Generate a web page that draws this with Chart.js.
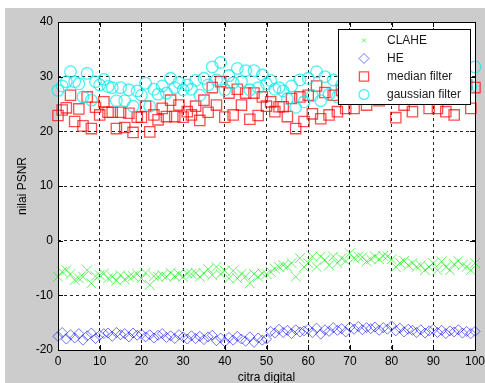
<!DOCTYPE html>
<html>
<head>
<meta charset="utf-8">
<script src="https://cdn.jsdelivr.net/npm/chart.js@4.4.1/dist/chart.umd.min.js"></script>
<style>
  html, body { margin: 0; padding: 0; background: #ffffff; }
  canvas { display: block; }
</style>
</head>
<body>
<canvas id="psnrChart" width="485" height="383"></canvas>
<script>
// PSNR values per image (citra 0..100)
const citra = Array.from({ length: 101 }, (_, i) => i);

const clahe = [
  -6.6, -5.7, -5.4, -6.1, -7.2, -6.9, -6.6, -5.4, -7.8, -6.5,
  -6.3, -6.0, -6.9, -6.6, -7.3, -6.3, -7.1, -6.6, -6.5, -6.1,
  -6.9, -5.9, -8.1, -6.5, -6.6, -6.3, -6.6, -5.9, -6.5, -6.1,
  -6.6, -6.0, -6.1, -5.9, -6.6, -6.0, -5.2, -6.3, -4.8, -6.1,
  -5.5, -6.9, -5.5, -6.9, -6.1, -6.5, -7.8, -6.1, -6.6, -6.0,
  -6.1, -5.7, -5.1, -4.8, -4.5, -4.8, -4.1, -6.6, -3.2, -4.8,
  -4.1, -2.9, -4.8, -2.9, -3.5, -4.5, -2.9, -4.1, -3.2, -3.7,
  -2.3, -3.2, -2.9, -3.0, -3.8, -3.4, -2.9, -3.4, -2.8, -2.9,
  -3.4, -4.8, -4.1, -3.7, -4.5, -4.1, -4.8, -4.5, -5.4, -4.8,
  -4.1, -5.4, -3.8, -4.8, -5.4, -4.3, -3.7, -4.5, -4.8, -5.4,
  -4.1
];

const he = [
  -17.5, -16.8, -18.0, -17.2, -17.8, -17.0, -18.2, -17.4, -16.9, -17.9,
  -17.3, -17.0, -16.9, -17.5, -16.8, -17.2, -17.0, -17.6, -16.9, -17.3,
  -17.1, -17.6, -17.2, -17.8, -17.3, -17.0, -17.7, -17.4, -17.9, -17.2,
  -17.6, -18.0, -17.4, -17.9, -17.5, -18.1, -17.6, -17.3, -18.3, -17.8,
  -18.5, -17.7, -18.2, -17.5, -18.0, -18.4, -17.6, -18.6, -17.8, -18.2,
  -18.0, -16.6, -16.9, -16.2, -16.8, -16.4, -17.0, -16.3, -16.7, -16.5,
  -16.2, -16.8, -16.0, -17.1, -16.3, -16.6, -15.9, -16.4, -16.1, -16.7,
  -15.8, -16.2, -15.7, -16.3, -15.9, -16.1, -15.8, -16.4, -15.9, -16.2,
  -15.6, -16.5, -16.0, -16.7, -16.2, -16.4, -16.8, -16.3, -16.9, -16.5,
  -16.2, -16.8, -16.4, -17.0, -16.5, -16.7, -16.3, -16.9, -16.6, -17.0,
  -16.6
];

const median = [
  22.9, 23.9, 24.3, 26.6, 21.8, 24.1, 21.0, 26.3, 20.5, 24.4,
  23.0, 25.4, 23.5, 23.5, 20.5, 23.5, 20.7, 23.3, 19.8, 22.6,
  22.6, 24.6, 19.9, 23.0, 22.1, 24.2, 22.7, 25.7, 22.7, 24.8,
  22.6, 23.6, 23.0, 24.6, 22.0, 25.7, 23.5, 28.0, 24.8, 29.1,
  22.6, 27.0, 23.0, 27.7, 24.8, 27.0, 22.2, 27.0, 22.9, 26.3,
  24.6, 25.4, 23.6, 24.5, 24.5, 22.7, 26.0, 20.5, 26.3, 21.8,
  26.6, 23.2, 28.3, 22.3, 27.1, 23.0, 26.6, 23.6, 27.5, 24.2,
  26.5, 24.2, 27.0, 26.0, 24.8, 26.5, 27.8, 25.6, 28.2, 26.9,
  27.3, 22.5, 26.8, 24.8, 27.2, 23.6, 26.0, 28.0, 25.9, 24.2,
  27.4, 24.2, 26.4, 23.6, 27.6, 23.0, 26.2, 27.9, 28.5, 24.2,
  28.0
];

const gaussian = [
  27.5, 28.3, 29.1, 30.9, 29.1, 28.7, 26.3, 30.6, 25.7, 29.1,
  28.5, 29.5, 28.2, 28.0, 25.6, 28.0, 25.6, 27.6, 24.6, 27.4,
  26.6, 28.8, 24.6, 27.7, 26.8, 28.3, 27.0, 29.7, 28.0, 28.9,
  27.6, 28.5, 27.7, 29.3, 26.6, 29.7, 28.5, 31.8, 29.4, 32.6,
  27.6, 30.2, 28.9, 31.5, 29.1, 31.1, 27.6, 31.1, 28.0, 30.3,
  28.7, 29.3, 27.7, 28.0, 27.4, 26.0, 28.3, 24.4, 29.4, 25.4,
  29.7, 26.5, 30.9, 25.6, 30.0, 26.8, 29.4, 26.3, 28.5, 27.2,
  29.8, 28.0, 27.0, 29.1, 28.4, 30.2, 27.6, 28.9, 29.5, 27.8,
  28.6, 30.0, 27.4, 29.2, 28.1, 26.9, 29.6, 28.3, 27.7, 30.4,
  28.8, 27.5, 29.0, 28.2, 30.1, 27.9, 28.7, 29.3, 28.0, 28.2,
  31.8
];

const seriesNames = ['CLAHE', 'HE', 'median filter', 'gaussian filter'];
const xTicks = { min: 0, max: 100, step: 10 };
const yTicks = { min: -20, max: 40, step: 10 };

const FONT = 'Liberation Sans, Arial, sans-serif';

const pts = (vals) => vals.map((v, i) => ({ x: citra[i], y: v }));

// marker styles, MATLAB-like
const markers = [
  { style: 'crossRot', color: 'rgba(0,235,0,0.6)', radius: 7, width: 1, legendRadius: 3 },
  { style: 'rectRot', color: 'rgba(0,0,255,0.55)', radius: 5, width: 1, legendRadius: 5 },
  { style: 'rect', color: 'rgba(255,0,0,0.7)', radius: 7.3, width: 1.3, legendRadius: 6.5 },
  { style: 'circle', color: 'rgba(0,235,235,0.7)', radius: 5.8, width: 1.3, legendRadius: 5 }
];

// background, white axes box, frame, inward ticks, legend
const matlabLook = {
  id: 'matlabLook',
  beforeDraw(chart) {
    const { ctx, chartArea: a } = chart;
    ctx.save();
    ctx.fillStyle = '#ffffff';
    ctx.fillRect(0, 0, chart.width, chart.height);
    ctx.fillStyle = '#cccccc';
    ctx.fillRect(5, 8, chart.width - 5, chart.height - 8);
    ctx.fillStyle = '#ffffff';
    ctx.fillRect(a.left, a.top, a.right - a.left, a.bottom - a.top);
    ctx.restore();
  },
  afterDatasetsDraw(chart) {
    const { ctx, chartArea: a, scales } = chart;
    ctx.save();
    ctx.strokeStyle = '#000000';
    ctx.lineWidth = 1;
    ctx.setLineDash([]);
    ctx.strokeRect(Math.round(a.left) + 0.5, Math.round(a.top) + 0.5,
      Math.round(a.right - a.left), Math.round(a.bottom - a.top));
    ctx.beginPath();
    for (let v = xTicks.min; v <= xTicks.max; v += xTicks.step) {
      const px = Math.round(scales.x.getPixelForValue(v)) + 0.5;
      ctx.moveTo(px, a.bottom); ctx.lineTo(px, a.bottom - 5);
      ctx.moveTo(px, a.top); ctx.lineTo(px, a.top + 5);
    }
    for (let v = yTicks.min; v <= yTicks.max; v += yTicks.step) {
      const py = Math.round(scales.y.getPixelForValue(v)) + 0.5;
      ctx.moveTo(a.left, py); ctx.lineTo(a.left + 5, py);
      ctx.moveTo(a.right, py); ctx.lineTo(a.right - 5, py);
    }
    ctx.stroke();
    ctx.restore();
  },
  afterDraw(chart) {
    const { ctx } = chart;
    const box = { x: 338, y: 29, w: 132, h: 75 };
    ctx.save();
    ctx.fillStyle = '#ffffff';
    ctx.fillRect(box.x, box.y, box.w, box.h);
    ctx.strokeStyle = '#000000';
    ctx.lineWidth = 1;
    ctx.strokeRect(box.x + 0.5, box.y + 0.5, box.w, box.h);
    ctx.font = '12px ' + FONT;
    ctx.textBaseline = 'middle';
    ctx.textAlign = 'left';
    seriesNames.forEach((name, i) => {
      const m = markers[i];
      const cy = box.y + 11.5 + i * 18;
      ctx.strokeStyle = m.color;
      ctx.fillStyle = 'rgba(0,0,0,0)';
      ctx.lineWidth = m.width;
      Chart.helpers.drawPoint(ctx, { pointStyle: m.style, radius: m.legendRadius, borderWidth: m.width, rotation: 0 }, 364, cy);
      ctx.fillStyle = '#1a1a1a';
      ctx.fillText(name, 387, cy + 0.5);
    });
    ctx.restore();
  }
};

const seriesData = [clahe, he, median, gaussian];

new Chart(document.getElementById('psnrChart'), {
  type: 'scatter',
  data: {
    datasets: seriesData.map((vals, i) => ({
      label: seriesNames[i],
      data: pts(vals),
      pointStyle: markers[i].style,
      pointRadius: markers[i].radius,
      pointBorderColor: markers[i].color,
      pointBackgroundColor: 'rgba(0,0,0,0)',
      pointBorderWidth: markers[i].width,
      showLine: false,
      clip: false,
      order: 4 - i
    }))
  },
  options: {
    responsive: false,
    devicePixelRatio: 1,
    animation: false,
    events: [],
    layout: { padding: { left: 0, top: 22, right: 10, bottom: 0 } },
    plugins: {
      legend: { display: false },
      tooltip: { enabled: false }
    },
    scales: {
      x: {
        type: 'linear',
        min: xTicks.min,
        max: xTicks.max,
        ticks: { stepSize: xTicks.step, color: '#000000', font: { family: FONT, size: 12 }, padding: 4, maxRotation: 0 },
        grid: { color: 'rgba(0,0,0,0.85)', lineWidth: 1, drawTicks: false },
        border: { display: false, dash: [3, 3] },
        title: { display: true, text: 'citra digital', color: '#000000', font: { family: FONT, size: 12 }, padding: { top: 0, bottom: -2 } },
        afterFit(s) { s.height = 33; s.paddingLeft = 0; s.paddingRight = 0; }
      },
      y: {
        type: 'linear',
        min: yTicks.min,
        max: yTicks.max,
        ticks: { stepSize: yTicks.step, color: '#000000', font: { family: FONT, size: 12 }, padding: 5 },
        grid: { color: 'rgba(0,0,0,0.85)', lineWidth: 1, drawTicks: false },
        border: { display: false, dash: [3, 3] },
        title: { display: true, text: 'nilai PSNR', color: '#000000', font: { family: FONT, size: 12 }, padding: { top: 15, bottom: 0 } },
        afterFit(s) { s.width = 58; }
      }
    }
  },
  plugins: [matlabLook]
});
</script>
</body>
</html>
